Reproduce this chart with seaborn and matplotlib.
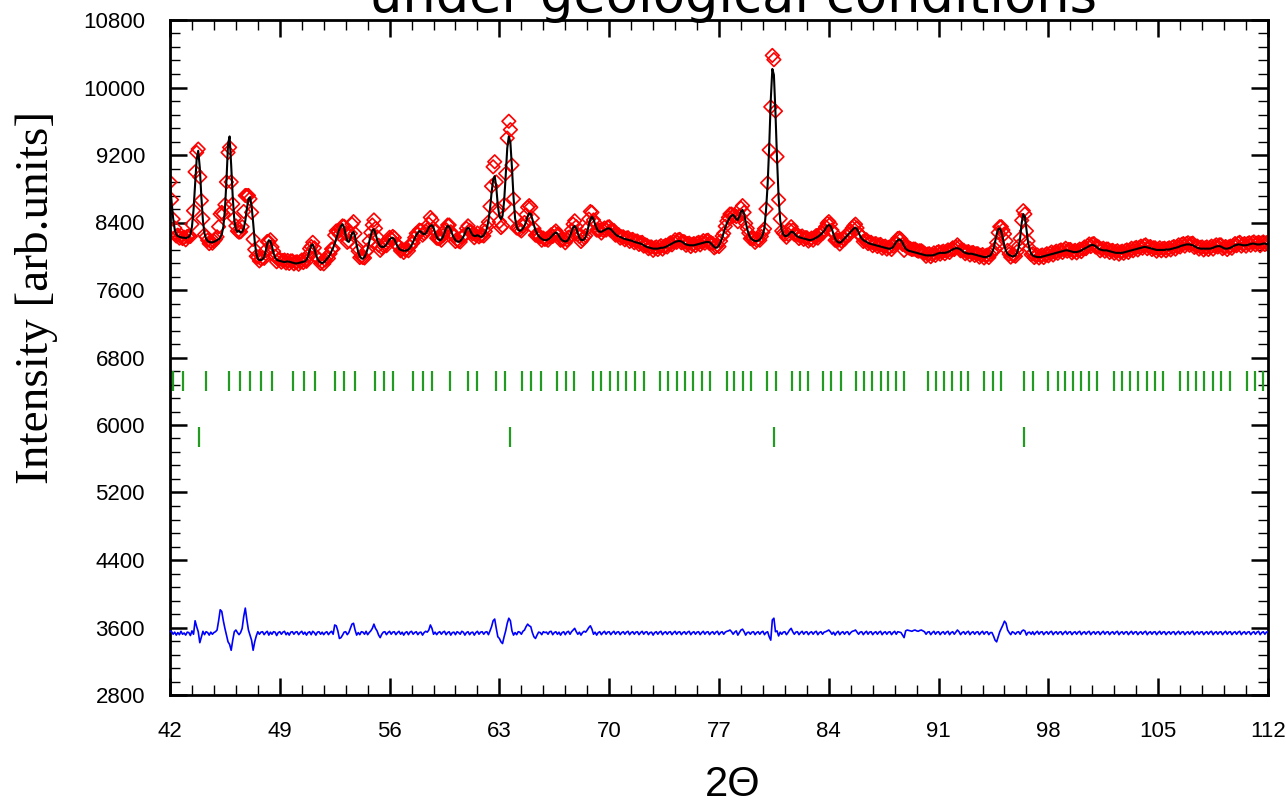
#!/usr/bin/env python3

# Rietveld refinement plot: observed, calculated, difference and Bragg positions.

import matplotlib
matplotlib.use("Agg")
import matplotlib.pyplot as plt
from matplotlib import font_manager
from matplotlib.ticker import MultipleLocator
import numpy as np
import pandas
import seaborn as sns

# scan grid, 0.1 deg steps from 42 to 112
two_theta = np.round(np.arange(42.0, 112.05, 0.1), 1)

# calculated profile (black line), one row per degree
calc = [
    8850, 8650, 8450, 8320, 8260, 8240, 8230, 8225, 8220, 8220,  # 42
    8215, 8220, 8230, 8260, 8350, 8550, 8850, 9150, 9250, 9050,  # 43
    8700, 8420, 8270, 8210, 8180, 8170, 8165, 8165, 8170, 8180,  # 44
    8190, 8200, 8220, 8260, 8350, 8550, 8900, 9330, 9420, 9080,  # 45
    8700, 8430, 8320, 8290, 8300, 8280, 8290, 8330, 8420, 8560,  # 46
    8680, 8700, 8600, 8400, 8180, 8030, 7970, 7955, 7955, 7965,  # 47
    7990, 8060, 8150, 8190, 8180, 8120, 8040, 7985, 7960, 7950,  # 48
    7945, 7940, 7935, 7930, 7935, 7940, 7935, 7930, 7925, 7920,  # 49
    7915, 7915, 7920, 7925, 7930, 7935, 7940, 7960, 8000, 8070,  # 50
    8130, 8140, 8090, 8020, 7970, 7940, 7925, 7920, 7925, 7945,  # 51
    7970, 7990, 8020, 8060, 8100, 8150, 8210, 8270, 8320, 8360,  # 52
    8380, 8340, 8250, 8180, 8170, 8210, 8270, 8290, 8230, 8130,  # 53
    8050, 8000, 7975, 7970, 7990, 8030, 8090, 8170, 8250, 8310,  # 54
    8320, 8270, 8200, 8150, 8120, 8110, 8110, 8120, 8140, 8170,  # 55
    8200, 8215, 8220, 8200, 8160, 8120, 8090, 8075, 8070, 8065,  # 56
    8065, 8070, 8080, 8100, 8130, 8170, 8210, 8250, 8280, 8300,  # 57
    8290, 8270, 8260, 8270, 8300, 8340, 8360, 8370, 8340, 8280,  # 58
    8230, 8200, 8190, 8200, 8230, 8280, 8330, 8360, 8350, 8310,  # 59
    8260, 8220, 8190, 8175, 8170, 8180, 8200, 8230, 8270, 8320,  # 60
    8340, 8320, 8280, 8250, 8240, 8240, 8250, 8240, 8230, 8230,  # 61
    8250, 8280, 8330, 8420, 8560, 8750, 8910, 8950, 8820, 8600,  # 62
    8470, 8440, 8480, 8650, 8950, 9280, 9420, 9350, 9050, 8700,  # 63
    8450, 8350, 8310, 8300, 8310, 8330, 8360, 8410, 8470, 8510,  # 64
    8500, 8440, 8370, 8310, 8270, 8240, 8220, 8205, 8195, 8190,  # 65
    8190, 8200, 8210, 8230, 8250, 8270, 8280, 8270, 8240, 8210,  # 66
    8190, 8180, 8175, 8180, 8200, 8240, 8290, 8340, 8360, 8330,  # 67
    8270, 8220, 8195, 8190, 8200, 8230, 8290, 8370, 8440, 8470,  # 68
    8440, 8380, 8330, 8300, 8290, 8290, 8300, 8310, 8320, 8330,  # 69
    8330, 8320, 8300, 8280, 8260, 8245, 8235, 8230, 8220, 8210,  # 70
    8205, 8200, 8195, 8190, 8185, 8180, 8170, 8165, 8160, 8155,  # 71
    8150, 8140, 8130, 8120, 8110, 8105, 8100, 8095, 8090, 8090,  # 72
    8090, 8090, 8095, 8100, 8100, 8105, 8110, 8120, 8130, 8140,  # 73
    8150, 8160, 8170, 8175, 8180, 8180, 8175, 8165, 8150, 8140,  # 74
    8135, 8130, 8130, 8130, 8130, 8135, 8140, 8145, 8150, 8155,  # 75
    8160, 8165, 8170, 8170, 8165, 8150, 8130, 8110, 8100, 8105,  # 76
    8130, 8170, 8220, 8280, 8340, 8390, 8430, 8460, 8480, 8490,  # 77
    8470, 8440, 8430, 8470, 8530, 8550, 8500, 8410, 8320, 8260,  # 78
    8220, 8200, 8190, 8180, 8180, 8185, 8200, 8220, 8260, 8340,  # 79
    8550, 8850, 9300, 9850, 10220, 10150, 9700, 9150, 8700, 8430,  # 80
    8310, 8260, 8240, 8240, 8250, 8270, 8290, 8290, 8270, 8250,  # 81
    8235, 8225, 8220, 8215, 8210, 8205, 8200, 8195, 8190, 8195,  # 82
    8200, 8210, 8220, 8230, 8245, 8260, 8280, 8300, 8330, 8360,  # 83
    8370, 8360, 8320, 8260, 8210, 8180, 8165, 8160, 8170, 8190,  # 84
    8210, 8230, 8250, 8270, 8290, 8310, 8330, 8340, 8320, 8280,  # 85
    8240, 8210, 8190, 8180, 8170, 8160, 8150, 8145, 8140, 8135,  # 86
    8130, 8125, 8120, 8115, 8110, 8105, 8100, 8095, 8090, 8090,  # 87
    8095, 8110, 8140, 8170, 8190, 8200, 8190, 8160, 8120, 8090,  # 88
    8075, 8065, 8060, 8055, 8050, 8045, 8040, 8035, 8030, 8025,  # 89
    8020, 8015, 8010, 8010, 8010, 8010, 8010, 8015, 8020, 8030,  # 90
    8035, 8040, 8040, 8040, 8040, 8045, 8050, 8060, 8070, 8080,  # 91
    8090, 8095, 8095, 8090, 8080, 8065, 8050, 8040, 8035, 8030,  # 92
    8030, 8030, 8025, 8020, 8015, 8010, 8005, 8000, 7995, 7990,  # 93
    7990, 7995, 8000, 8010, 8040, 8090, 8170, 8260, 8320, 8330,  # 94
    8290, 8210, 8120, 8060, 8030, 8015, 8005, 8000, 8000, 8010,  # 95
    8040, 8100, 8220, 8400, 8500, 8470, 8320, 8170, 8080, 8030,  # 96
    8010, 8000, 7995, 7990, 7990, 7990, 7995, 8000, 8005, 8010,  # 97
    8015, 8020, 8025, 8030, 8035, 8040, 8045, 8050, 8055, 8060,  # 98
    8065, 8070, 8070, 8065, 8060, 8055, 8050, 8050, 8050, 8055,  # 99
    8060, 8070, 8080, 8090, 8100, 8110, 8120, 8130, 8135, 8130,  # 100
    8120, 8105, 8090, 8080, 8075, 8070, 8070, 8070, 8065, 8060,  # 101
    8055, 8050, 8045, 8040, 8040, 8040, 8040, 8040, 8045, 8050,  # 102
    8055, 8060, 8065, 8070, 8075, 8080, 8085, 8090, 8095, 8100,  # 103
    8105, 8110, 8110, 8105, 8100, 8095, 8090, 8085, 8080, 8075,  # 104
    8075, 8075, 8075, 8075, 8075, 8080, 8080, 8080, 8085, 8090,  # 105
    8095, 8100, 8105, 8110, 8120, 8125, 8130, 8135, 8140, 8140,  # 106
    8140, 8135, 8130, 8120, 8110, 8100, 8095, 8090, 8090, 8090,  # 107
    8090, 8090, 8090, 8090, 8095, 8100, 8110, 8115, 8120, 8120,  # 108
    8115, 8105, 8095, 8090, 8090, 8095, 8100, 8110, 8120, 8130,  # 109
    8135, 8140, 8140, 8135, 8130, 8130, 8130, 8135, 8140, 8145,  # 110
    8150, 8150, 8145, 8140, 8140, 8140, 8145, 8150, 8150, 8145,  # 111
    8140,  # 112
]

resid = [
    30, 20, -10, 15, -20, 10, -15, 25, -10, 5,  # 42
    -20, 15, 10, -25, 30, -10, 150, 80, 20, -110,  # 43
    -40, 25, -15, 20, 10, -20, 15, -10, 10, 20,  # 44
    40, 150, 280, 260, 150, 60, -20, -100, -130, -200,  # 45
    -80, 20, 40, 10, -15, 10, 60, 200, 300, 160,  # 46
    40, -20, -80, -200, -100, -30, 20, -10, 15, 20,  # 47
    -15, 10, 25, -20, 15, -10, 20, 15, -25, 10,  # 48
    20, -10, 15, 25, -15, 10, -20, 15, 20, -10,  # 49
    15, 20, -15, 10, 25, -10, 15, -20, 10, 20,  # 50
    -15, 25, 10, -20, 15, 20, -10, 15, -15, 10,  # 51
    20, -15, 10, 25, -10, 100, 90, 30, -60, -50,  # 52
    -20, 15, 20, -15, 10, 60, 110, 120, 40, -20,  # 53
    10, -15, 20, 15, -10, 25, -15, 10, 30, 60,  # 54
    110, 60, 30, -20, -50, -10, 15, 20, -15, 10,  # 55
    25, -10, 15, 20, -15, 10, 25, -10, 15, -20,  # 56
    10, 20, -15, 15, 25, -10, 10, 20, -15, 10,  # 57
    15, -20, 10, 25, 15, 40, 100, 60, -10, 15,  # 58
    -15, 10, 20, -10, 15, 25, -15, 10, 20, -20,  # 59
    10, 15, -15, 20, 10, -10, 25, 15, -20, 10,  # 60
    20, -15, 10, 15, -20, 10, 25, -10, 15, 20,  # 61
    -10, 15, 20, -15, 30, 80, 150, 170, 60, -40,  # 62
    -60, -100, -120, -40, 30, 120, 180, 150, 30, -20,  # 63
    10, -15, 20, 15, -10, 25, 40, 80, 110, 90,  # 64
    80, 10, -40, -60, -20, 15, 10, -15, 20, 10,  # 65
    15, -10, 20, 25, -15, 10, 20, -10, 15, -20,  # 66
    10, 20, -15, 15, 25, -10, 20, 40, 60, 20,  # 67
    -10, 15, -20, 10, 25, 15, 40, 70, 90, 50,  # 68
    -10, 15, -20, 10, 20, -15, 10, 25, -10, 15,  # 69
    20, -15, 10, 25, -10, 15, 20, -15, 10, 20,  # 70
    -10, 15, 25, -15, 10, 20, -10, 15, 20, -15,  # 71
    10, 25, -10, 15, 20, -15, 10, 15, -20, 10,  # 72
    20, -10, 15, 25, -15, 10, 20, -10, 15, 20,  # 73
    -15, 10, 25, -10, 15, 20, -15, 10, 20, -10,  # 74
    15, 25, -15, 10, 20, -10, 15, 20, -15, 10,  # 75
    25, -10, 15, 20, -15, 10, 20, -10, 15, 25,  # 76
    -15, 10, 20, -10, 15, 25, 30, 40, 20, -10,  # 77
    15, 30, -20, 10, 40, 50, 20, -20, 10, 15,  # 78
    -10, 15, 20, -15, 10, 20, -10, 15, 25, -15,  # 79
    10, 20, -40, -80, 160, 180, 20, 30, -30, 15,  # 80
    -10, 15, 20, -15, 10, 40, 60, 20, -10, 15,  # 81
    20, -15, 10, 25, -10, 15, 20, -15, 10, 20,  # 82
    -10, 15, 25, -15, 10, 20, -10, 15, 20, 30,  # 83
    40, 20, -10, 15, -20, 10, 25, -15, 10, 20,  # 84
    -10, 15, 20, -15, 10, 25, 30, 40, 15, -10,  # 85
    15, 20, -15, 10, 25, -10, 15, 20, -15, 10,  # 86
    20, -10, 15, 25, -15, 10, 20, -10, 15, 20,  # 87
    -15, 10, 25, -10, 20, 15, 10, -20, -50, 30,  # 88
    40, 35, 30, 25, 35, 40, 30, 25, 35, 40,  # 89
    30, 20, -10, 15, 20, -15, 10, 25, -10, 15,  # 90
    20, -15, 10, 20, -10, 15, 25, -15, 10, 20,  # 91
    -10, 15, 40, 20, -15, 10, 20, -10, 15, 25,  # 92
    -15, 10, 20, -10, 15, 20, -15, 10, 25, -10,  # 93
    15, 20, -15, 10, 10, -30, -80, -100, -40, 20,  # 94
    60, 100, 145, 120, 40, 10, -15, 20, 10, -10,  # 95
    15, 20, -10, 25, 40, 30, -20, 10, 15, -10,  # 96
    20, -15, 10, 25, -10, 15, 20, -15, 10, 20,  # 97
    -10, 15, 25, -15, 10, 20, -10, 15, 20, -15,  # 98
    10, 25, -10, 15, 20, -15, 10, 20, -10, 15,  # 99
    25, -15, 10, 20, -10, 15, 25, -15, 10, 20,  # 100
    -10, 15, 20, -15, 10, 25, -10, 15, 20, -15,  # 101
    10, 20, -10, 15, 25, -15, 10, 20, -10, 15,  # 102
    20, -15, 10, 25, -10, 15, 20, -15, 10, 20,  # 103
    -10, 15, 25, -15, 10, 20, -10, 15, 20, -15,  # 104
    10, 25, -10, 15, 20, -15, 10, 20, -10, 15,  # 105
    20, -15, 10, 25, -10, 15, 20, -15, 10, 20,  # 106
    -10, 15, 25, -15, 10, 20, -10, 15, 20, -15,  # 107
    10, 20, -10, 15, 25, -15, 10, 20, -10, 15,  # 108
    20, -15, 10, 25, -10, 15, 20, -15, 10, 20,  # 109
    -10, 15, 25, -15, 10, 20, -10, 15, 20, -15,  # 110
    10, 20, -10, 15, 25, -15, 10, 20, -10, 15,  # 111
    20,  # 112
]

# Bragg reflection positions, upper row (main phase)
bragg_phase1 = [
    42.16, 42.84, 44.28, 45.75, 46.44, 47.12, 47.81, 48.49, 49.86, 50.54,
    51.22, 52.52, 53.11, 53.79, 55.07, 55.64, 56.23, 57.48, 58.10, 58.71,
    59.85, 61.01, 61.60, 62.76, 63.38, 64.47, 65.04, 65.63, 66.70, 67.27,
    67.77, 68.98, 69.48, 70.05, 70.57, 71.10, 71.64, 72.19, 73.24, 73.76,
    74.33, 74.86, 75.35, 75.90, 76.43, 77.50, 77.98, 78.50, 79.05, 80.08,
    80.63, 81.63, 82.15, 82.70, 83.65, 84.17, 84.77, 85.75, 86.22, 86.75,
    87.30, 87.77, 88.30, 88.77, 90.32, 90.85, 91.32, 91.87, 92.40, 92.87,
    93.89, 94.44, 94.96, 96.47, 96.99, 97.99, 98.59, 99.09, 99.57, 100.09,
    100.62, 101.11, 102.18, 102.71, 103.23, 103.73, 104.26, 104.81, 105.33, 106.36,
    106.88, 107.41, 107.95, 108.48, 109.03, 109.55, 110.65, 111.17, 111.65,
]

# Bragg reflection positions, lower row (second phase)
bragg_phase2 = [43.84, 63.68, 80.50, 96.45]

diff_offset = 3530

df = pandas.DataFrame({"two_theta": two_theta, "calc": calc, "resid": resid})
df["obs"] = df["calc"] + df["resid"]
df["diff"] = df["resid"] + diff_offset


def pick_font(names, default="DejaVu Sans"):
    have = {f.name for f in font_manager.fontManager.ttflist}
    for name in names:
        if name in have:
            return name
    return default


tick_font = pick_font(["Liberation Sans Narrow", "Liberation Sans"])

sns.set_theme(style="white")
plt.rcParams["text.color"] = "black"
plt.rcParams["xtick.color"] = "black"
plt.rcParams["ytick.color"] = "black"

fig = plt.figure(figsize=(12.86, 8.07), dpi=100)
ax = fig.add_axes([170 / 1286, 112 / 807, 1098 / 1286, 675 / 807])

sns.scatterplot(
    data=df, x="two_theta", y="obs", ax=ax,
    marker="D", s=48, facecolor="none", edgecolor="red", linewidth=1.2,
    zorder=2, legend=False,
)
sns.lineplot(
    data=df, x="two_theta", y="calc", ax=ax,
    color="black", linewidth=1.5, estimator=None, zorder=3,
)
sns.lineplot(
    data=df, x="two_theta", y="diff", ax=ax,
    color="blue", linewidth=1.2, estimator=None, zorder=3,
)

ax.vlines(bragg_phase1, 6400, 6640, color="#239b23", linewidth=1.6)
ax.vlines(bragg_phase2, 5740, 5975, color="#239b23", linewidth=1.6)

ax.set_xlim(42, 112)
ax.set_ylim(2800, 10800)
ax.xaxis.set_major_locator(MultipleLocator(7))
ax.xaxis.set_minor_locator(MultipleLocator(1.4))
ax.yaxis.set_major_locator(MultipleLocator(800, offset=2800))
ax.yaxis.set_minor_locator(MultipleLocator(160, offset=2800))
ax.tick_params(which="both", direction="in", top=True, right=True,
               bottom=True, left=True, colors="black")
ax.tick_params(which="major", length=12, width=1.8)
ax.tick_params(which="minor", length=7, width=1.0)
ax.tick_params(axis="x", pad=19, labelsize=16)
ax.tick_params(axis="y", pad=18, labelsize=16)
for lab in ax.get_xticklabels() + ax.get_yticklabels():
    lab.set_fontfamily(tick_font)
    lab.set_color("black")
for spine in ax.spines.values():
    spine.set_linewidth(2.0)
    spine.set_color("black")
ax.set_xlabel("")
ax.set_ylabel("")

fig.text(37 / 1286, 1 - 297 / 807, "Intensity [arb.units]", rotation=90,
         ha="center", va="center", fontsize=34, family="Liberation Serif",
         color="black")
fig.text(733 / 1286, 1 - 785 / 807, "2\u0398", ha="center", va="center",
         fontsize=30, family="Liberation Sans", color="black")
# title is cropped at the top edge of the picture, as in the source figure
fig.text(0.57, 1 - 12 / 807, "under geological conditions", ha="center",
         va="baseline", fontsize=38, family="DejaVu Sans", color="black")

fig.savefig("out.png", dpi=100)
